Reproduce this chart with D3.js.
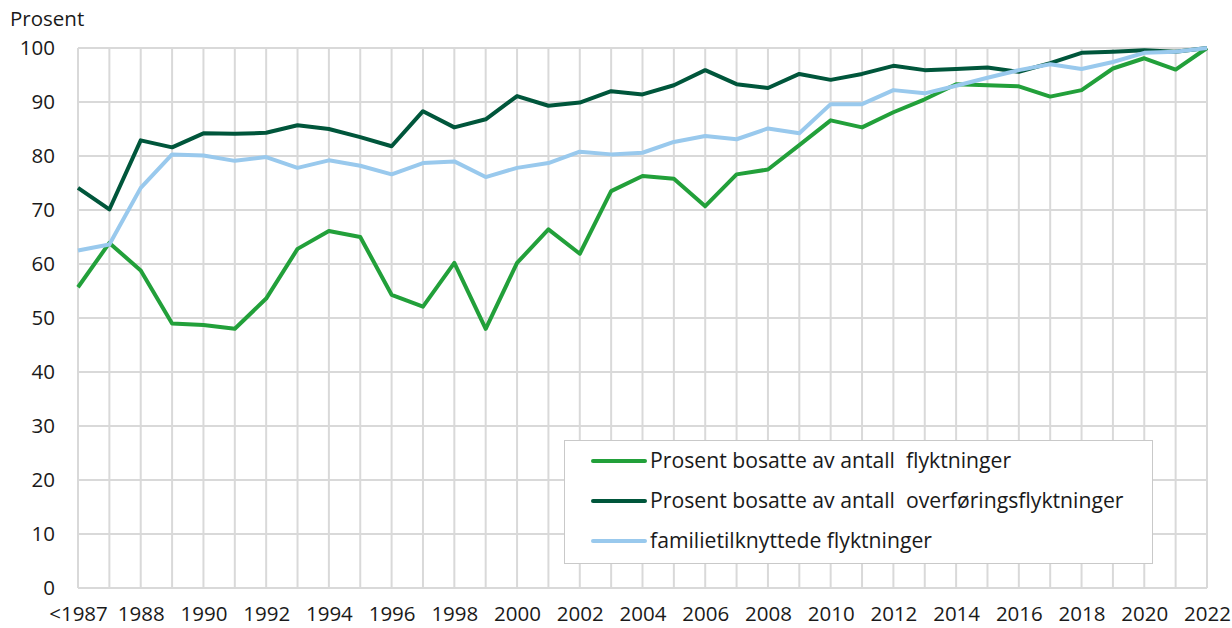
<!DOCTYPE html>
<html>
<head>
<meta charset="utf-8">
<script src="https://cdn.jsdelivr.net/npm/d3@7"></script>
<style>
  body { margin: 0; background: #fff; }
  svg text { font-family: "Open Sans", "Noto Sans", sans-serif; fill: #1a1a1a; }
</style>
</head>
<body>
<div id="chart"></div>
<script>
// ... data
const years = ['<1987', '1987', '1988', '1989', '1990', '1991', '1992', '1993', '1994', '1995', '1996',
    '1997', '1998', '1999', '2000', '2001', '2002', '2003', '2004', '2005', '2006', '2007', '2008',
    '2009', '2010', '2011', '2012', '2013', '2014', '2015', '2016', '2017', '2018', '2019', '2020',
    '2021', '2022'];

const flyktninger = [55.7, 63.9, 58.8, 49.0, 48.7, 48.0, 53.6, 62.8, 66.1, 65.0, 54.3,
    52.1, 60.2, 48.0, 60.2, 66.4, 61.9, 73.5, 76.3, 75.8, 70.7, 76.6, 77.5,
    82.0, 86.6, 85.3, 88.1, 90.5, 93.3, 93.1, 92.9, 91.0, 92.2, 96.2, 98.1,
    96.0, 100];

const overforing = [74.1, 70.1, 82.9, 81.6, 84.2, 84.1, 84.3, 85.7, 85.0, 83.5, 81.8,
    88.3, 85.3, 86.8, 91.1, 89.3, 89.9, 92.0, 91.4, 93.1, 95.9, 93.3, 92.6,
    95.2, 94.1, 95.2, 96.7, 95.9, 96.1, 96.4, 95.6, 97.2, 99.1, 99.3, 99.6,
    99.3, 100];

const familie = [62.5, 63.6, 74.1, 80.3, 80.1, 79.1, 79.8, 77.8, 79.2, 78.2, 76.6,
    78.7, 79.0, 76.1, 77.8, 78.7, 80.8, 80.3, 80.6, 82.6, 83.7, 83.1, 85.1,
    84.2, 89.6, 89.6, 92.2, 91.6, 93.0, 94.5, 95.9, 97.0, 96.1, 97.4, 99.1,
    99.3, 100];

const seriesNames = ['Prosent bosatte av antall  flyktninger',
    'Prosent bosatte av antall  overføringsflyktninger',
    'familietilknyttede flyktninger'];
const seriesColors = ['#22a03a', '#00563b', '#99c9ed'];
const yTicks = [0, 10, 20, 30, 40, 50, 60, 70, 80, 90, 100];

const series = [flyktninger, overforing, familie];

// ... chart area
const W = 1232, H = 628;
const plot = {left: 78, right: 1207, top: 48, bottom: 588};

const svg = d3.select('#chart').append('svg')
    .attr('width', W)
    .attr('height', H);

const x = d3.scalePoint()
    .domain(years)
    .range([plot.left, plot.right]);

const y = d3.scaleLinear()
    .domain([0, 100])
    .range([plot.bottom, plot.top]);

// ... grid
svg.append('g')
    .selectAll('line')
    .data(yTicks)
    .join('line')
    .attr('x1', plot.left).attr('x2', plot.right)
    .attr('y1', d => y(d)).attr('y2', d => y(d))
    .attr('stroke', '#d9d9d9')
    .attr('stroke-width', 2);

svg.append('g')
    .selectAll('line')
    .data(years)
    .join('line')
    .attr('x1', d => x(d)).attr('x2', d => x(d))
    .attr('y1', plot.top).attr('y2', plot.bottom)
    .attr('stroke', '#d9d9d9')
    .attr('stroke-width', 2);

// ... axes
const yAxis = d3.axisLeft(y)
    .tickValues(yTicks)
    .tickSize(0)
    .tickPadding(23);

svg.append('g')
    .attr('transform', 'translate(' + plot.left + ',0)')
    .call(yAxis)
    .call(g => g.select('.domain').remove())
    .selectAll('text')
    .style('font-size', '20.5px');

const xAxis = d3.axisBottom(x)
    .tickValues(years.filter((d, i) => i === 0 || i % 2 === 0))
    .tickSize(0)
    .tickPadding(18);

svg.append('g')
    .attr('transform', 'translate(0,' + plot.bottom + ')')
    .call(xAxis)
    .call(g => g.select('.domain').remove())
    .selectAll('text')
    .style('font-size', '20.5px');

svg.append('text')
    .attr('x', 10)
    .attr('y', 26)
    .style('font-size', '20.5px')
    .text('Prosent');

// ... lines
const line = d3.line()
    .x((d, i) => x(years[i]))
    .y(d => y(d));

svg.append('g')
    .selectAll('path')
    .data(series)
    .join('path')
    .attr('d', line)
    .attr('fill', 'none')
    .attr('stroke', (d, i) => seriesColors[i])
    .attr('stroke-width', 4)
    .attr('stroke-linejoin', 'round');

// ... legend
const legend = svg.append('g');

legend.append('rect')
    .attr('x', 564.5).attr('y', 440.5)
    .attr('width', 588).attr('height', 123)
    .attr('fill', '#fff')
    .attr('stroke', '#c9c9c9')
    .attr('stroke-width', 1);

const item = legend.selectAll('g')
    .data(seriesNames)
    .join('g')
    .attr('transform', (d, i) => 'translate(593,' + (461 + i * 40) + ')');

item.append('line')
    .attr('x1', 0).attr('x2', 52)
    .attr('stroke', (d, i) => seriesColors[i])
    .attr('stroke-width', 4)
    .attr('stroke-linecap', 'round');

item.append('text')
    .attr('x', 57)
    .attr('dy', '0.35em')
    .style('font-size', '21.2px')
    .style('white-space', 'pre')
    .text(d => d);
</script>
</body>
</html>
